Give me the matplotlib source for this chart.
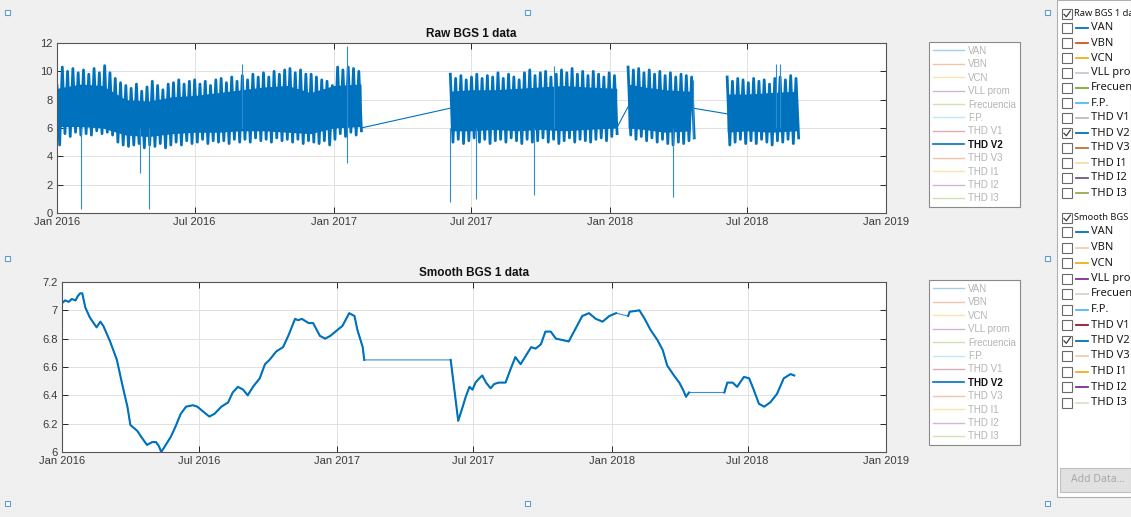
import numpy as np
import pandas as pd
import matplotlib
matplotlib.use("Agg")
import matplotlib.pyplot as plt
from matplotlib.patches import Rectangle
from matplotlib.lines import Line2D
from matplotlib.colors import to_rgb

# ---------------------------------------------------------------- data
series_names = ["VAN", "VBN", "VCN", "VLL prom", "Frecuencia", "F.P.",
                "THD V1", "THD V2", "THD V3", "THD I1", "THD I2", "THD I3"]
series_colors = ["#0072BD", "#D95319", "#EDB120", "#7E2F8E", "#77AC30", "#4DBEEE",
                 "#A2142F", "#0072BD", "#D95319", "#EDB120", "#7E2F8E", "#77AC30"]
shown = "THD V2"

tick_dates = ["2016-01-01", "2016-07-01", "2017-01-01", "2017-07-01",
              "2018-01-01", "2018-07-01", "2019-01-01"]
tick_labels = ["Jan 2016", "Jul 2016", "Jan 2017", "Jul 2017",
               "Jan 2018", "Jul 2018", "Jan 2019"]

# raw THD V2: weekly daytime peaks / night troughs per recorded block
seg1_start = "2016-01-01"
seg1_peak = [9.0, 10.3, 10.0, 10.2, 9.9,
             10.1, 9.8, 10.2, 9.9,
             10.4, 9.9, 9.5, 9.2,
             9.0, 8.8, 9.1, 8.6, 8.9,
             9.3, 9.0, 8.7, 9.1,
             9.2, 9.4, 9.1, 9.3,
             9.4, 9.1, 9.3, 9.0, 9.4,
             9.5, 9.2, 9.6, 9.3,
             9.7, 9.4, 9.8, 9.6,
             9.9, 9.6, 10.0, 9.8, 10.1,
             10.2, 9.9, 10.1, 9.8,
             9.8, 9.6, 9.4, 9.3, 9.0,
             10.3, 10.1, 10.3, 10.2, 10.0]
seg1_trough = [4.8, 5.6, 5.4, 5.7, 5.5,
               5.6, 5.5, 5.8, 5.6,
               5.7, 5.5, 5.0, 4.8,
               4.7, 4.8, 4.9, 4.6, 4.8,
               4.7, 4.9, 4.6, 4.8,
               5.0, 4.8, 5.1, 4.9,
               5.0, 5.2, 4.9, 5.1, 5.0,
               5.1, 4.9, 5.2, 5.0,
               5.2, 5.0, 5.3, 5.1,
               5.2, 5.0, 5.3, 5.1, 5.2,
               5.0, 5.2, 4.9, 5.1,
               5.0, 4.9, 5.1, 4.8, 5.2,
               5.6, 5.4, 5.7, 5.5, 5.8]

seg2_start = "2017-06-04"
seg2_peak = [9.8, 9.5, 9.7, 9.4, 9.6, 9.8, 9.5, 9.7, 9.6, 9.9, 9.5, 9.8, 9.6, 9.4, 9.9, 10.1,
             9.7, 9.9, 10.0, 9.6, 9.8, 10.1, 9.9, 10.2, 9.8, 10.0, 9.7, 10.0, 9.8, 9.6, 9.9, 9.7]
seg2_trough = [5.0, 5.2, 4.9, 5.1, 5.3, 5.0, 5.2, 4.9, 5.1, 5.2, 5.0, 5.3, 5.1, 4.9, 5.2, 5.0,
               5.1, 5.3, 5.0, 5.2, 4.9, 5.1, 5.3, 5.0, 5.2, 5.1, 5.0, 5.2, 5.3, 5.1, 5.4, 5.6]

seg3_start = "2018-01-25"
seg3_peak = [10.3, 10.1, 10.2, 9.9, 10.1, 9.8, 10.0, 9.7, 9.9, 9.6, 9.8, 9.7, 9.6]
seg3_trough = [5.5, 5.2, 5.4, 5.1, 5.3, 5.0, 5.2, 4.9, 4.8, 5.0, 4.9, 5.1, 5.3]

seg4_start = "2018-06-05"
seg4_peak = [9.6, 9.3, 9.5, 9.4, 9.2, 9.5, 9.3, 9.4, 9.1, 9.5, 9.6, 9.4, 9.7, 9.5]
seg4_trough = [4.8, 5.0, 5.2, 4.9, 5.1, 4.9, 5.2, 5.0, 4.8, 5.1, 5.0, 5.2, 4.9, 5.3]

# dense core of each block (monthly)
core1_dates = ["2016-01-01", "2016-02-01", "2016-03-01", "2016-04-01", "2016-05-01", "2016-06-01",
               "2016-07-01", "2016-08-01", "2016-09-01", "2016-10-01", "2016-11-01", "2016-12-01",
               "2017-01-01", "2017-02-06"]
core1_lo = [6.1, 6.1, 6.0, 5.5, 5.4, 5.6, 5.7, 5.7, 5.8, 5.8, 5.7, 5.6, 6.0, 6.1]
core1_hi = [8.8, 9.1, 9.0, 8.0, 7.9, 8.2, 8.3, 8.5, 8.7, 8.9, 9.0, 8.5, 9.0, 9.1]
core2_dates = ["2017-06-04", "2017-07-01", "2017-08-01", "2017-09-01", "2017-10-01",
               "2017-11-01", "2017-12-01", "2018-01-10"]
core2_lo = [5.8, 5.8, 5.9, 5.8, 5.9, 5.8, 5.9, 6.0]
core2_hi = [8.6, 8.7, 8.7, 8.8, 8.9, 9.0, 8.9, 8.8]
core3_dates = ["2018-01-25", "2018-02-15", "2018-03-15", "2018-04-17"]
core3_lo = [6.0, 5.9, 5.7, 5.8]
core3_hi = [9.1, 8.9, 8.7, 8.6]
core4_dates = ["2018-06-05", "2018-07-01", "2018-08-01", "2018-09-05"]
core4_lo = [5.7, 5.8, 5.7, 5.8]
core4_hi = [8.4, 8.4, 8.5, 8.6]

# straight joins across missing data
gap_start = ["2017-02-06", "2018-01-10", "2018-04-21"]
gap_start_val = [6.0, 6.0, 7.4]
gap_end = ["2017-06-04", "2018-01-25", "2018-06-05"]
gap_end_val = [7.4, 7.5, 7.0]

# isolated outliers
spike_dates = ["2016-02-02", "2016-04-20", "2016-05-01", "2016-09-01", "2017-01-19", "2017-06-04",
               "2017-07-08", "2017-09-22", "2017-10-19", "2018-03-25", "2018-04-21", "2018-08-09",
               "2018-08-14"]
spike_lo = [0.3, 2.8, 0.3, 6.0, 3.5, 0.8, 1.0, 1.3, 6.0, 1.1, 5.3, 6.0, 6.0]
spike_hi = [6.0, 6.0, 6.0, 10.5, 11.8, 6.0, 6.0, 6.0, 10.4, 6.0, 9.4, 10.5, 10.5]

# smoothed THD V2
smooth_dates = ["2016-01-01", "2016-01-05", "2016-01-10", "2016-01-14", "2016-01-19", "2016-01-22",
                "2016-01-25", "2016-01-28", "2016-02-01", "2016-02-07", "2016-02-16", "2016-02-21",
                "2016-02-25", "2016-03-05", "2016-03-14", "2016-03-21", "2016-03-28", "2016-04-01",
                "2016-04-10", "2016-04-15", "2016-04-23", "2016-04-30", "2016-05-05", "2016-05-09",
                "2016-05-12", "2016-05-18", "2016-05-25", "2016-05-31", "2016-06-07", "2016-06-14",
                "2016-06-23", "2016-06-29", "2016-07-08", "2016-07-15", "2016-07-22", "2016-07-31",
                "2016-08-09", "2016-08-15", "2016-08-22", "2016-08-29", "2016-09-04", "2016-09-11",
                "2016-09-20", "2016-09-27", "2016-10-03", "2016-10-12", "2016-10-21", "2016-10-28",
                "2016-11-06", "2016-11-10", "2016-11-15", "2016-11-24", "2016-11-30", "2016-12-09",
                "2016-12-16", "2016-12-23", "2017-01-01", "2017-01-08", "2017-01-17", "2017-01-24",
                "2017-01-28", "2017-02-04", "2017-02-06",
                "2017-06-01", "2017-06-11", "2017-06-17", "2017-06-21", "2017-06-26", "2017-06-30",
                "2017-07-04", "2017-07-09", "2017-07-13", "2017-07-18", "2017-07-24", "2017-07-29",
                "2017-08-04", "2017-08-13", "2017-08-20", "2017-08-26", "2017-09-02", "2017-09-09",
                "2017-09-16", "2017-09-22", "2017-09-29", "2017-10-05", "2017-10-12", "2017-10-19",
                "2017-10-28", "2017-11-05", "2017-11-14", "2017-11-23", "2017-12-02", "2017-12-11",
                "2017-12-20", "2017-12-29", "2018-01-07", "2018-01-23", "2018-01-25", "2018-02-07",
                "2018-02-14", "2018-02-22", "2018-03-03", "2018-03-10", "2018-03-16", "2018-03-25",
                "2018-04-01", "2018-04-06", "2018-04-10", "2018-04-14", "2018-05-31", "2018-06-04",
                "2018-06-11", "2018-06-17", "2018-06-26", "2018-07-03", "2018-07-09", "2018-07-16",
                "2018-07-23", "2018-07-31", "2018-08-09", "2018-08-18", "2018-08-27", "2018-09-01"]
smooth_vals = [7.05, 7.07, 7.06, 7.08, 7.07, 7.10, 7.12, 7.12, 7.02, 6.95, 6.88, 6.92,
               6.89, 6.78, 6.65, 6.48, 6.32, 6.19, 6.15, 6.11, 6.05, 6.07, 6.07, 6.04,
               6.00, 6.05, 6.11, 6.18, 6.27, 6.32, 6.33, 6.32, 6.28, 6.25, 6.27, 6.32,
               6.35, 6.42, 6.46, 6.44, 6.40, 6.46, 6.52, 6.62, 6.65, 6.71, 6.74, 6.82,
               6.94, 6.93, 6.94, 6.91, 6.91, 6.82, 6.80, 6.82, 6.86, 6.89, 6.98, 6.96,
               6.86, 6.74, 6.65,
               6.65, 6.22, 6.32, 6.39, 6.46, 6.44, 6.49, 6.52, 6.54, 6.49, 6.45, 6.48,
               6.49, 6.49, 6.59, 6.67, 6.62, 6.68, 6.74, 6.73, 6.76, 6.85, 6.85, 6.80,
               6.79, 6.78, 6.87, 6.96, 6.98, 6.94, 6.92, 6.96, 6.98, 6.96, 6.99, 7.00,
               6.94, 6.86, 6.79, 6.72, 6.61, 6.54, 6.49, 6.44, 6.39, 6.42, 6.42, 6.49,
               6.49, 6.46, 6.53, 6.52, 6.44, 6.34, 6.32, 6.35, 6.41, 6.52, 6.55, 6.54]
# flat stretches where the smoother bridged missing data (start dates)
smooth_gap_starts = ["2017-02-06", "2018-01-07", "2018-04-14"]

# ---------------------------------------------------------------- helpers
W, H = 1131, 517
BLUE = "#0072BD"


def fx(x):
    return x / W


def fy(y):
    return 1 - y / H


def fade(c, k=0.35):
    r, g, b = to_rgb(c)
    return (1 - k + k * r, 1 - k + k * g, 1 - k + k * b)


def zigzag(start, peaks, troughs):
    t0 = pd.Timestamp(start)
    xs, ys = [], []
    for k, (p, q) in enumerate(zip(peaks, troughs)):
        xs += [t0 + pd.Timedelta(days=7 * k), t0 + pd.Timedelta(days=7 * k + 3.5)]
        ys += [p, q]
    return xs, ys


def style_axes(ax, title, ylim, yticks):
    ax.set_facecolor("white")
    ax.set_xlim(pd.Timestamp(tick_dates[0]), pd.Timestamp(tick_dates[-1]))
    ax.set_xticks(pd.to_datetime(tick_dates))
    ax.set_xticklabels(tick_labels)
    ax.set_ylim(*ylim)
    ax.set_yticks(yticks)
    ax.set_yticklabels([f"{v:g}" for v in yticks])
    ax.grid(True, color="#e1e1e1", lw=0.7)
    ax.set_axisbelow(True)
    ax.tick_params(direction="in", top=True, right=True, length=4, width=0.7,
                   colors="#262626", labelsize=8, labelcolor="#3a3a3a", pad=3)
    for s in ax.spines.values():
        s.set_color("#555555")
        s.set_linewidth(0.8)
    ax.set_title(title, fontsize=8.5, fontweight="bold", pad=4, color="#111111")


def add_legend(ax, top_px):
    handles = []
    for name, col in zip(series_names, series_colors):
        if name == shown:
            h, = ax.plot([], [], color=col, lw=1.2)
        else:
            h, = ax.plot([], [], color=fade(col), lw=1.0)
        handles.append(h)
    leg = ax.legend(handles, series_names, loc="upper left",
                    bbox_to_anchor=(fx(929), fy(top_px)), bbox_transform=fig.transFigure,
                    fontsize=7, frameon=True, fancybox=False, framealpha=1,
                    edgecolor="#8a8a8a", handlelength=3.2, handletextpad=0.4,
                    labelspacing=0.35, borderpad=0.4, borderaxespad=0)
    leg.get_frame().set_linewidth(0.8)
    for t in leg.get_texts():
        if t.get_text() == shown:
            t.set_color("#111111")
            t.set_fontweight("bold")
        else:
            t.set_color("#b4b4b4")


plt.rcParams["font.family"] = ["Liberation Sans", "DejaVu Sans"]
fig = plt.figure(figsize=(W / 100, H / 100), dpi=100, facecolor="#f0f0f0")

# ---------------------------------------------------------------- raw
ax1 = fig.add_axes([fx(57), fy(213), fx(886) - fx(57), (213 - 43) / H])
style_axes(ax1, "Raw BGS 1 data", (0, 12), [0, 2, 4, 6, 8, 10, 12])

for d, lo, hi in [(core1_dates, core1_lo, core1_hi), (core2_dates, core2_lo, core2_hi),
                  (core3_dates, core3_lo, core3_hi), (core4_dates, core4_lo, core4_hi)]:
    ax1.fill_between(pd.to_datetime(d), lo, hi, color=BLUE, lw=0)

for st, pk, tr in [(seg1_start, seg1_peak, seg1_trough), (seg2_start, seg2_peak, seg2_trough),
                   (seg3_start, seg3_peak, seg3_trough), (seg4_start, seg4_peak, seg4_trough)]:
    xs, ys = zigzag(st, pk, tr)
    ax1.plot(xs, ys, color=BLUE, lw=2.0)

for a, av, b, bv in zip(gap_start, gap_start_val, gap_end, gap_end_val):
    ax1.plot(pd.to_datetime([a, b]), [av, bv], color=BLUE, lw=0.8)

ax1.vlines(pd.to_datetime(spike_dates), spike_lo, spike_hi, color="#2f8ad0", lw=0.8)
add_legend(ax1, 42)

# ---------------------------------------------------------------- smooth
ax2 = fig.add_axes([fx(62), fy(452), fx(886) - fx(62), (452 - 282) / H])
style_axes(ax2, "Smooth BGS 1 data", (6, 7.2), [6, 6.2, 6.4, 6.6, 6.8, 7, 7.2])
sd = pd.to_datetime(smooth_dates)
ax2.plot(sd, smooth_vals, color="#3a8fd0", lw=0.8)
# thicker where real data exists, thin across the bridged gaps
run_x, run_y = [], []
gaps = set(pd.to_datetime(smooth_gap_starts))
for d, v in zip(sd, smooth_vals):
    run_x.append(d)
    run_y.append(v)
    if d in gaps:
        ax2.plot(run_x, run_y, color=BLUE, lw=1.5)
        run_x, run_y = [], []
ax2.plot(run_x, run_y, color=BLUE, lw=1.5)
add_legend(ax2, 280)

# ---------------------------------------------------------------- plot browser panel
PANEL_FONT = ["Noto Sans", "DejaVu Sans"]
fig.patches.append(Rectangle((fx(1057), fy(497)), fx(W) - fx(1057), 497 / H,
                             transform=fig.transFigure, fc="white", ec="#b0b0b0", lw=0.8))
fig.patches.append(Rectangle((fx(1060), fy(492)), fx(W) - fx(1060), 24 / H,
                             transform=fig.transFigure, fc="#e1e1e1", ec="#c0c0c0", lw=0.8))
fig.text(fx(1071), fy(480), "Add Data...", fontsize=7.5, color="#a8a8a8", va="center",
         family=PANEL_FONT)


def checkbox(x, y, checked):
    fig.patches.append(Rectangle((fx(x), fy(y + 5)), 10 / W, 10 / H, transform=fig.transFigure,
                                 fc="white", ec="#6a6a6a", lw=0.8))
    if checked:
        fig.lines.append(Line2D([fx(x + 2), fx(x + 4.3), fx(x + 8.3)],
                                [fy(y + 0.3), fy(y + 2.8), fy(y - 2.8)],
                                transform=fig.transFigure, color="#404040", lw=0.9))


panel_groups = [
    ("Raw BGS 1 data", 14, 28, 15.0,
     ["#0072BD", "#D95319", "#EDB120", "#c9c9d6", "#77AC30", "#4DBEEE",
      "#bdbdbd", "#0072BD", "#c0703c", "#f6dca8", "#6e5a80", "#9aaa50"]),
    ("Smooth BGS 1 data", 218, 232, 15.5,
     ["#0072BD", "#f5cdb0", "#EDB120", "#7E2F8E", "#d6d6cc", "#4DBEEE",
      "#A2142F", "#0072BD", "#f5cdb0", "#EDB120", "#7E2F8E", "#dde0cc"]),
]
for header, hy, y0, dy, cols in panel_groups:
    checkbox(1062, hy, True)
    fig.text(fx(1074), fy(hy), header, fontsize=6.7, va="center", color="#1a1a1a",
             family=PANEL_FONT)
    for i, (name, col) in enumerate(zip(series_names, cols)):
        y = y0 + dy * i
        checkbox(1062, y, name == shown)
        fig.lines.append(Line2D([fx(1076), fx(1088)], [fy(y), fy(y)],
                                transform=fig.transFigure, color=col, lw=1.3))
        fig.text(fx(1091), fy(y), name, fontsize=8.0, va="center", color="#1a1a1a",
                 family=PANEL_FONT)

# selection handles around the figure
for hx in (7, 527, 1047):
    for hy in (12, 258, 503):
        if hx == 527 and hy == 258:
            continue
        fig.patches.append(Rectangle((fx(hx - 2.5), fy(hy + 2.5)), 5 / W, 5 / H,
                                     transform=fig.transFigure, fc="white", ec="#5b9bd5", lw=0.8))

fig.savefig("out.png", dpi=100, facecolor=fig.get_facecolor())
